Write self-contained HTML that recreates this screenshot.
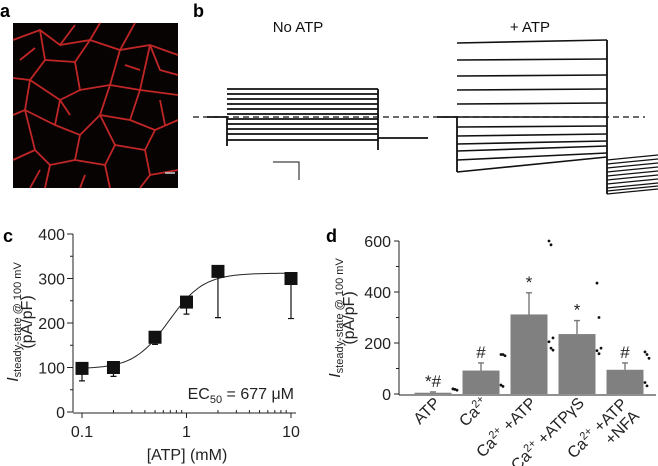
<!DOCTYPE html>
<html><head><meta charset="utf-8"><style>
body{margin:0;background:#fff}
svg{display:block;font-family:"Liberation Sans",Arial,sans-serif}
</style></head><body>
<svg id="fig" width="658" height="466" viewBox="0 0 658 466">
<text x="0" y="17" font-size="18" font-weight="bold">a</text>
<text x="193" y="17" font-size="18" font-weight="bold">b</text>
<text x="3" y="242" font-size="18" font-weight="bold">c</text>
<text x="326" y="242" font-size="18" font-weight="bold">d</text>

<g>
<rect x="13" y="23" width="165" height="165" fill="#080303"/>
<g id="cells" stroke="#d42a2a" stroke-width="1.8" fill="none" opacity="0.9"></g>
<line x1="165" y1="173" x2="175" y2="173" stroke="#ccc" stroke-width="1.5"/>
</g>

<g id="traces" stroke="#111" fill="none">
<text x="298" y="32" font-size="15" fill="#111" stroke="none" text-anchor="middle">No ATP</text>
<text x="530" y="32" font-size="15" fill="#111" stroke="none" text-anchor="middle">+ ATP</text>
<line x1="193" y1="117" x2="645" y2="117" stroke-dasharray="6,4" stroke-width="1.2"/>
<path d="M273 162H299V180" stroke-width="1"/>
</g>

<g id="chartC"></g>
<g id="chartD"></g>
</svg>
<script>
const NS="http://www.w3.org/2000/svg";
function mk(p,t,a){const e=document.createElementNS(NS,t);for(const k in a)e.setAttribute(k,a[k]);p.appendChild(e);return e;}

const cellLines=[
"M13 40 L40 30 L60 45 L75 25","M40 30 L45 60 L30 80 L13 78","M60 45 L90 40 L100 23","M45 60 L75 62 L90 40","M90 40 L120 50 L135 23","M120 50 L150 45 L178 55",
"M75 62 L80 90 L60 100 L30 80","M80 90 L110 85 L120 50","M110 85 L140 90 L150 45","M140 90 L178 95","M30 80 L25 110 L13 115",
"M60 100 L55 125 L25 110","M55 125 L80 135 L100 115 L110 85","M100 115 L130 120 L140 90","M130 120 L155 130 L178 120","M80 135 L75 160 L50 165 L35 150 L25 110",
"M75 160 L105 165 L115 145 L100 115","M115 145 L145 150 L155 130","M145 150 L150 175 L178 170","M105 165 L110 188","M35 150 L13 160","M50 165 L45 188","M150 175 L140 188",
"M20 60 L35 48","M150 45 L160 70 L178 75","M60 100 L70 115","M125 65 L140 70","M40 170 L30 188","M85 175 L80 188","M160 100 L165 125"];
const cg=document.getElementById('cells');
cellLines.forEach(d=>{const p=mk(cg,'path',{d});});

const noAtpLevels=[89,94,99,104,109,114,119,124,129,134,140];
const atpStart=[43,60,76,90,104,117,127,136,144,151,160,172];
const atpEnd=[40,59,75,89,103,117,126,134,141,146,153,157];
const tailStart=[160,164,168,172,176,180,184,188,191,194];
const tailEnd=[155,159,163,167,171,175,179,183,186,189];
const tg=document.getElementById('traces');
noAtpLevels.forEach(y=>{const l=mk(tg,'line',{x1:227,y1:y,x2:378,y2:y,'stroke-width':1.7});});
[['M207 117H227V146'],['M378 89V150'],['M378 138H428']].forEach(a=>{const p=mk(tg,'path',{d:a[0],'stroke-width':1.8});});
atpStart.forEach((y,i)=>{const p=mk(tg,'path',{d:`M457 ${y} Q500 ${(y+atpEnd[i])/2+ (y-atpEnd[i])*0.2} 607 ${atpEnd[i]}`,'stroke-width':1.6});});
tailStart.forEach((y,i)=>{const l=mk(tg,'line',{x1:607,y1:y,x2:658,y2:tailEnd[i],'stroke-width':1.2});});
[['M437 117H457V172'],['M607 40V194']].forEach(a=>{const p=mk(tg,'path',{d:a[0],'stroke-width':1.8});});

// ---------- chart c ----------
const concC=[0.1,0.2,0.5,1,2,10];
const meanC=[98,100,168,247,316,300];
const errLowC=[70,80,152,220,212,210];
const yTicksC=[0,100,200,300,400];
const xTicksC=[0.1,1,10];
const hillBottom=97, hillTop=312, hillEC50=0.677, hillN=2.6;
const gc=document.getElementById('chartC');
const xC=v=>82+Math.log10(v/0.1)*104.5;
const yC=v=>412-v*0.445;
let e;
e=mk(gc,'line',{x1:73,y1:yC(0),x2:73,y2:yC(400),stroke:'#222','stroke-width':1});

e=mk(gc,'line',{x1:73,y1:413,x2:296,y2:413,stroke:'#222','stroke-width':1});

for(let v=0;v<=400;v+=50){e=mk(gc,'line',{x1:v%100?70:67,y1:yC(v),x2:73,y2:yC(v),stroke:'#222'});}
yTicksC.forEach(v=>{e=mk(gc,'text',{x:65,y:yC(v)+6,'font-size':16,'text-anchor':'end',fill:'#222'});e.textContent=v;});
[0.1,0.2,0.3,0.4,0.5,0.6,0.7,0.8,0.9,1,2,3,4,5,6,7,8,9,10].forEach(v=>{const maj=xTicksC.includes(v);e=mk(gc,'line',{x1:xC(v),y1:413,x2:xC(v),y2:maj?418:410,stroke:'#222'});});
xTicksC.forEach(v=>{e=mk(gc,'text',{x:xC(v),y:437,'font-size':16,'text-anchor':'middle',fill:'#222'});e.textContent=v;});
e=mk(gc,'text',{x:187,y:460,'font-size':16,'text-anchor':'middle',fill:'#222'});e.textContent='[ATP] (mM)';

e=mk(gc,'text',{transform:'translate(18,322) rotate(-90)','font-size':16,'text-anchor':'middle',fill:'#222'});
e.innerHTML='<tspan font-style="italic">I</tspan><tspan font-size="11" dy="3">steady-state @ 100 mV</tspan>';

e=mk(gc,'text',{transform:'translate(32,322) rotate(-90)','font-size':16,'text-anchor':'middle',fill:'#222'});e.textContent='(pA/pF)';

let d='';for(let i=0;i<=100;i++){const c=0.1*Math.pow(100,i/100);const v=hillBottom+(hillTop-hillBottom)/(1+Math.pow(hillEC50/c,hillN));d+=(i?'L':'M')+xC(c).toFixed(1)+' '+yC(v).toFixed(1);}
e=mk(gc,'path',{d,fill:'none',stroke:'#222','stroke-width':1});
concC.forEach((c,i)=>{
 e=mk(gc,'path',{d:`M${xC(c)} ${yC(meanC[i])}V${yC(errLowC[i])}M${xC(c)-3} ${yC(errLowC[i])}H${xC(c)+3}`,stroke:'#111','stroke-width':1.2});
 
 e=mk(gc,'rect',{x:xC(c)-6.5,y:yC(meanC[i])-6.5,width:13,height:13,fill:'#111'});
 
});
e=mk(gc,'text',{x:294,y:399,'font-size':16,'text-anchor':'end',fill:'#222'});
e.innerHTML='EC<tspan font-size="11" dy="4">50</tspan><tspan dy="-4"> = 677 μM</tspan>';


// ---------- chart d ----------
const groupsD=['ATP','Ca2+','Ca2+ +ATP','Ca2+ +ATPγS','Ca2+ +ATP +NFA'];
const meansD=[5,92,312,235,95];
const errHighD=[8,122,397,288,122];
const marksD=['*#','#','*','*','#'];
const dotsD=[[20,18,15,20],[155,155,150,35,30],[600,585,220,205,180,172],[435,300,180,170,158],[165,155,140,45,32]];
const yTicksD=[0,200,400,600];
const gd=document.getElementById('chartD');
const xD=i=>433+i*48;
const yD=v=>394-v*0.255;
e=mk(gd,'line',{x1:399,y1:241,x2:399,y2:395,stroke:'#222'});
e=mk(gd,'line',{x1:399,y1:395,x2:656,y2:395,stroke:'#222'});
for(let v=0;v<=600;v+=100){e=mk(gd,'line',{x1:v%200?396:394,y1:yD(v),x2:399,y2:yD(v),stroke:'#222'});}
yTicksD.forEach(v=>{e=mk(gd,'text',{x:391,y:yD(v)+6,'font-size':16,'text-anchor':'end',fill:'#222'});e.textContent=v;});
e=mk(gd,'text',{transform:'translate(340,318) rotate(-90)','font-size':16,'text-anchor':'middle',fill:'#222'});
e.innerHTML='<tspan font-style="italic">I</tspan><tspan font-size="11" dy="3">steady-state @ 100 mV</tspan>';

e=mk(gd,'text',{transform:'translate(354,318) rotate(-90)','font-size':16,'text-anchor':'middle',fill:'#222'});e.textContent='(pA/pF)';

groupsD.forEach((g,i)=>{
 const cx=xD(i);
 e=mk(gd,'path',{d:`M${cx} ${yD(meansD[i])}V${yD(errHighD[i])}M${cx-3} ${yD(errHighD[i])}H${cx+3}`,stroke:'#777','stroke-width':1.4});
 
 e=mk(gd,'rect',{x:cx-18.5,y:yD(meansD[i]),width:37,height:yD(0)-yD(meansD[i]),fill:'#808080'});
 
 dotsD[i].forEach((v,j)=>{e=mk(gd,'circle',{cx:cx+20+(j%3)*2,cy:yD(v),r:1.4,fill:'#111'});});
 e=mk(gd,'text',{x:cx,y:yD(errHighD[i])-5,'font-size':17,'text-anchor':'middle',fill:'#222'});e.textContent=marksD[i];
 
 const first=i===4?[cx+3,405]:[cx+8,404];
 e=mk(gd,'text',{transform:`translate(${first[0]},${first[1]}) rotate(-45)`,'font-size':16,'text-anchor':'end',fill:'#222'});
 const parts=g.split(' ');
 if(i===0){e.textContent='ATP';}
 else if(i===4){e.innerHTML='Ca<tspan font-size="11" dy="-6">2+</tspan><tspan dy="6"> +ATP</tspan>';
   const e2=mk(gd,'text',{transform:`translate(${cx+15},417) rotate(-45)`,'font-size':16,'text-anchor':'end',fill:'#222'});e2.textContent='+NFA';
   }
 else{e.innerHTML='Ca<tspan font-size="11" dy="-6">2+</tspan><tspan dy="6">'+(parts[1]?' '+parts[1]:'')+'</tspan>';}
 
});
</script>
</body></html>
